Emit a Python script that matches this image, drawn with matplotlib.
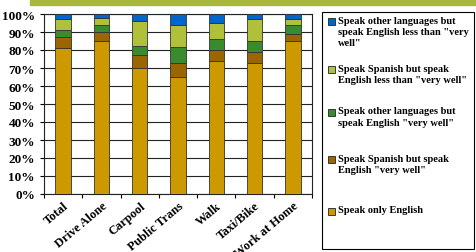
import numpy as np
import matplotlib
matplotlib.use("Agg")
import matplotlib.pyplot as plt
from matplotlib.patches import Rectangle

plt.rcParams['font.family'] = ['Liberation Serif', 'DejaVu Serif']

# Datos (porcentajes)
categorias = ['Total', 'Drive Alone', 'Carpool', 'Public Trans', 'Walk', 'Taxi/Bike', 'Work at Home']
solo_ingles = [81, 85, 70, 65, 74, 73, 85]
espanol_muy_bien = [6, 5, 7, 7.6, 6, 6, 4]
otros_muy_bien = [4, 4, 5, 9, 6, 6, 5]
espanol_menos = [6, 4, 14, 12.4, 9, 12, 3.5]
otros_menos = [3, 2, 4, 6, 5, 3, 2.5]

series = [
    (solo_ingles, '#CC9900', 'Speak only English'),
    (espanol_muy_bien, '#996600', 'Speak Spanish but speak\nEnglish "very well"'),
    (otros_muy_bien, '#3A8A2E', 'Speak other languages but\nspeak English "very well"'),
    (espanol_menos, '#B0C03A', 'Speak Spanish but speak\nEnglish less than "very well"'),
    (otros_menos, '#0066CC', 'Speak other languages but\nspeak English less than "very\nwell"'),
]
# posición vertical (px desde arriba) de cada entrada de la leyenda, de abajo hacia arriba
pos_leyenda = [212, 160, 113, 70, 22.5]

W, H = 476, 253
fig = plt.figure(figsize=(W / 100, H / 100), dpi=100)
ax = fig.add_axes([44/W, 1 - 195/H, 268/W, 180/H])

# Banda superior
fig.patches.append(Rectangle((30/W, 1 - 6/H), 446/W, 6/H,
                             transform=fig.transFigure, color='#A9B83A', zorder=0))

x = np.arange(len(categorias))
abajo = np.zeros(len(categorias))
for valores, color, etiqueta in series:
    ax.bar(x, valores, 0.4, bottom=abajo, color=color, edgecolor='#333333',
           linewidth=0.6, label=etiqueta, zorder=3)
    abajo += np.array(valores)

ax.set_xlim(-0.5, len(categorias) - 0.5)
ax.set_ylim(0, 100)
ax.set_yticks(np.arange(0, 101, 10))
ax.set_yticklabels([f'{v}%' for v in range(0, 101, 10)], fontsize=9.5, fontweight='bold')
ax.yaxis.grid(True, color='#222222', linewidth=0.8, zorder=0)
ax.set_xticks(np.arange(-0.5, len(categorias), 1))
ax.set_xticklabels([])
ax.set_xticks(x, minor=True)
ax.set_xticklabels(categorias, minor=True, rotation=40, ha='right',
                   rotation_mode='anchor', fontsize=9, fontweight='bold')
ax.tick_params(axis='x', which='minor', length=0, pad=4)
ax.tick_params(axis='both', which='major', length=3, direction='out', width=0.8)
for s in ax.spines.values():
    s.set_linewidth(0.8)
    s.set_color('#222222')

# Leyenda dibujada a mano (caja, cuadros y textos)
fig.patches.append(Rectangle((322/W, 1 - 250/H), 152/W, 237/H, transform=fig.transFigure,
                             facecolor='white', edgecolor='black', linewidth=0.8, zorder=1))
for (valores, color, etiqueta), yp in zip(series, pos_leyenda):
    fig.patches.append(Rectangle((328/W, 1 - (yp + 3.5)/H), 7/W, 7/H, transform=fig.transFigure,
                                 facecolor=color, edgecolor='#222222', linewidth=0.6, zorder=2))
    fig.text(338/W, 1 - (yp - 5.5)/H, etiqueta, fontsize=7.5, fontweight='bold',
             va='top', ha='left', linespacing=1.3)

plt.savefig('out.png', dpi=100)
